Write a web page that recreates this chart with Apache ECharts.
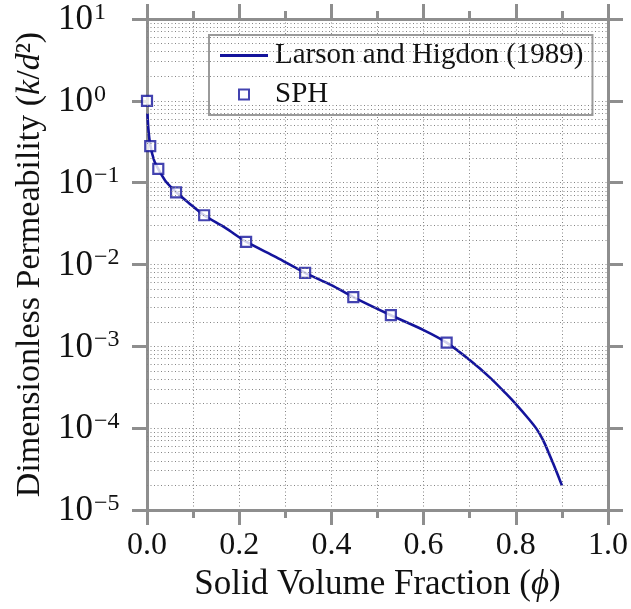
<!DOCTYPE html>
<html>
<head>
<meta charset="utf-8">
<script src="https://cdn.jsdelivr.net/npm/echarts@6/dist/echarts.min.js"></script>
<style>html,body{margin:0;padding:0;background:#fff}#c{width:631px;height:609px}</style>
</head>
<body>
<div id="c"></div>
<script>
// Larson and Higdon (1989) curve: solid volume fraction vs permeability k/d^2
const phiCurve = [0.001, 0.003, 0.007, 0.015, 0.025, 0.04, 0.063, 0.09, 0.124, 0.17, 0.215, 0.28, 0.343, 0.40, 0.4475, 0.529, 0.60, 0.65, 0.70, 0.744, 0.78, 0.803, 0.824, 0.845, 0.86, 0.874, 0.889, 0.9];
const kCurve = [0.70, 0.45, 0.29, 0.19, 0.145, 0.105, 0.077, 0.057, 0.040, 0.028, 0.019, 0.0123, 0.0079, 0.0056, 0.0040, 0.0024, 0.00158, 0.00111, 0.00068, 0.000415, 0.00026, 0.000189, 0.000138, 0.000098, 0.00007, 0.000046, 0.0000288, 0.000020];
// SPH results
const phiSph = [0, 0.007, 0.0245, 0.063, 0.124, 0.215, 0.343, 0.4475, 0.529, 0.650];
const kSph = [1.0, 0.28, 0.147, 0.076, 0.040, 0.0189, 0.0079, 0.0040, 0.0024, 0.00111];
// axis ticks
const xTicks = [0.0, 0.2, 0.4, 0.6, 0.8, 1.0];
const yExponents = [-5, -4, -3, -2, -1, 0, 1];
const minorMultipliers = [2, 3, 4, 5, 6, 7, 8, 9];
const seriesNames = ['Larson and Higdon (1989)', 'SPH'];

const FONT = 'Liberation Serif';
const AX = '#8e8e8e';
const GRIDC = '#858585';
const BLUE = '#14149c';
const dotted = {color: GRIDC, width: 1, type: [1, 2.5]};

const lg = v => Math.log10(v);
const minorY = [];
for (let i = 0; i < yExponents.length - 1; i++) {
  for (const m of minorMultipliers) minorY.push({yAxis: lg(m * Math.pow(10, yExponents[i]))});
}

const axisLineStyle = {show: true, onZero: false, lineStyle: {color: AX, width: 3}};
const tickStyle = {show: true, inside: false, length: 15, lineStyle: {color: AX, width: 3}};
const minorTickStyle = {show: true, splitNumber: 2, length: 8, lineStyle: {color: AX, width: 3}};

const chart = echarts.init(document.getElementById('c'), null, {renderer: 'canvas'});
chart.setOption({
  animation: false,
  backgroundColor: '#fff',
  grid: {left: 147, right: 23, top: 19, bottom: 99, containLabel: false, outerBoundsMode: 'none'},
  legend: {
    orient: 'vertical',
    left: 209, top: 35,
    width: 383,
    padding: [6, 9, 6, 11],
    itemGap: 10,
    itemWidth: 48, itemHeight: 10,
    backgroundColor: '#fff',
    borderColor: '#9a9a9a', borderWidth: 2, borderRadius: 0,
    textStyle: {fontFamily: FONT, fontSize: 29, color: '#111', padding: [0, 0, 0, 2]},
    data: [
      {name: seriesNames[0], icon: 'path://M0,0h48v3h-48z', itemStyle: {color: BLUE, borderWidth: 0}},
      {name: seriesNames[1], icon: 'path://M0,0h10v10h-10z'}
    ]
  },
  xAxis: [{
    type: 'value', position: 'bottom', min: 0, max: 1, interval: 0.2,
    axisLine: axisLineStyle, axisTick: tickStyle, minorTick: minorTickStyle,
    splitLine: {show: true, lineStyle: dotted},
    minorSplitLine: {show: true, lineStyle: dotted},
    axisLabel: {
      fontFamily: FONT, fontSize: 32, color: '#111', margin: 20,
      formatter: v => xTicks.some(t => Math.abs(t - v) < 1e-9) ? v.toFixed(1) : ''
    },
    name: 'Solid Volume Fraction ({i|ϕ})',
    nameLocation: 'middle', nameGap: 55,
    nameTextStyle: {fontFamily: FONT, fontSize: 35, color: '#111',
      rich: {i: {fontFamily: FONT, fontStyle: 'italic', fontSize: 35, color: '#111'}}}
  }, {
    type: 'value', position: 'top', min: 0, max: 1, interval: 0.2,
    axisLine: axisLineStyle, axisTick: tickStyle, minorTick: minorTickStyle,
    splitLine: {show: false}, axisLabel: {show: false}
  }],
  yAxis: [{
    type: 'value', position: 'left', min: -5, max: 1, interval: 1,
    axisLine: axisLineStyle, axisTick: tickStyle,
    splitLine: {show: true, lineStyle: dotted},
    axisLabel: {
      margin: 89, align: 'left', color: '#111',
      formatter: v => '{b|10}{e|' + (v < 0 ? '\u2212' + (-v) : String(v)) + '}',
      rich: {
        b: {fontFamily: FONT, fontSize: 35, color: '#111', verticalAlign: 'bottom'},
        e: {fontFamily: FONT, fontSize: 24, color: '#111', verticalAlign: 'top', padding: [0, 0, 13, 1]}
      }
    },
    name: 'Dimensionless Permeability ({i|k}/{i|d}²)',
    nameLocation: 'middle', nameGap: 98, nameRotate: 90,
    nameTextStyle: {fontFamily: FONT, fontSize: 34, color: '#111',
      rich: {i: {fontFamily: FONT, fontStyle: 'italic', fontSize: 34, color: '#111'}}}
  }, {
    type: 'value', position: 'right', min: -5, max: 1, interval: 1,
    axisLine: axisLineStyle, axisTick: tickStyle,
    splitLine: {show: false}, axisLabel: {show: false}
  }],
  series: [{
    name: 'minorgrid', type: 'line', data: [], z: 1, silent: true,
    markLine: {silent: true, symbol: 'none', label: {show: false}, animation: false,
      lineStyle: dotted, emphasis: {disabled: true}, data: minorY}
  }, {
    name: seriesNames[0], type: 'line', z: 3,
    data: phiCurve.map((p, i) => [p, lg(kCurve[i])]),
    symbol: 'none', smooth: 0.3,
    lineStyle: {color: BLUE, width: 2.6}, itemStyle: {color: BLUE}
  }, {
    name: seriesNames[1], type: 'scatter', z: 4,
    data: phiSph.map((p, i) => [p, lg(kSph[i])]),
    symbol: 'rect', symbolSize: 10,
    itemStyle: {color: '#fff', borderColor: BLUE, borderWidth: 2.2}
  }]
});
</script>
</body>
</html>
